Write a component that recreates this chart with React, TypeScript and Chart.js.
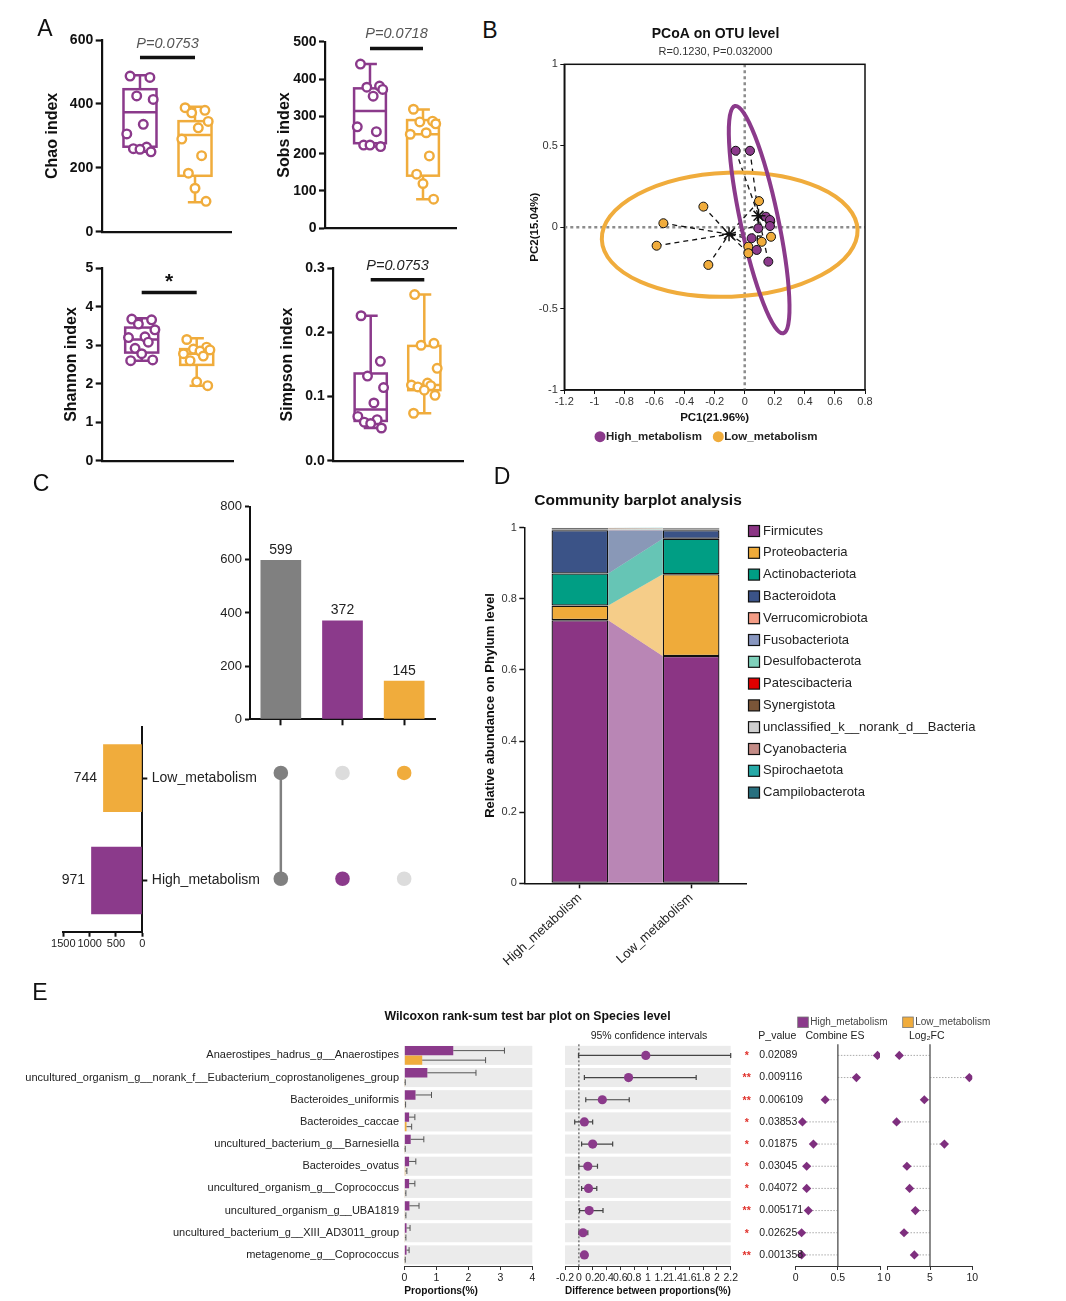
import React, { useEffect, useRef } from 'react';
import { Chart, registerables } from 'chart.js';

Chart.register(...registerables);

const FONT = "'Liberation Sans', Arial, Helvetica, sans-serif";
Chart.defaults.font.family = FONT;
Chart.defaults.color = '#222';

const PURPLE = '#8b3a8b';
const ORANGE = '#f0ac3c';
const GRAY = '#808080';
const LIGHT = '#dcdcdc';
const DIAMOND = '#7e2f7e';
const BAND = '#ebebeb';

// ---------------- Panel A data ----------------
const groupLabels = ['High_metabolism', 'Low_metabolism'];
const chaoHigh = [487, 483, 425, 414, 336, 306, 265, 260, 258, 250];
const chaoLow = [388, 380, 372, 345, 325, 290, 238, 183, 136, 95];
const chaoHighBox = [250, 266, 374, 446, 490]; // min, q1, median, q3, max
const chaoLowBox = [92, 175, 303, 346, 391];

const sobsHigh = [440, 381, 378, 372, 354, 272, 259, 223, 223, 219];
const sobsLow = [319, 287, 285, 280, 256, 252, 194, 145, 120, 78];
const sobsHighBox = [219, 228, 314, 375, 440];
const sobsLowBox = [78, 141, 252, 290, 318];

const shannonHigh = [3.68, 3.66, 3.55, 3.4, 3.22, 3.2, 3.08, 2.92, 2.78, 2.62, 2.6];
const shannonLow = [3.15, 2.95, 2.9, 2.88, 2.85, 2.78, 2.72, 2.6, 2.05, 1.95];
const shannonHighBox = [2.6, 2.81, 3.15, 3.46, 3.7];
const shannonLowBox = [1.95, 2.49, 2.78, 2.9, 3.18];

const simpsonHigh = [0.226, 0.155, 0.132, 0.114, 0.09, 0.069, 0.064, 0.06, 0.058, 0.051];
const simpsonLow = [0.259, 0.183, 0.18, 0.144, 0.121, 0.118, 0.117, 0.115, 0.11, 0.102, 0.074];
const simpsonHighBox = [0.051, 0.062, 0.08, 0.136, 0.226];
const simpsonLowBox = [0.074, 0.11, 0.118, 0.179, 0.259];

// ---------------- Panel B data ----------------
const pcoaHigh = [
  [-0.06, 0.469], [0.035, 0.469], [0.141, 0.064], [0.168, 0.044], [0.168, 0.007],
  [0.09, -0.007], [0.046, -0.068], [0.08, -0.14], [0.157, -0.212],
];
const pcoaLow = [
  [-0.275, 0.126], [-0.541, 0.024], [-0.586, -0.114], [-0.242, -0.232], [0.095, 0.16],
  [0.17, 0.035], [0.175, -0.059], [0.113, -0.09], [0.024, -0.12], [0.024, -0.16],
];
// confidence ellipses: centre x, centre y, semi-axis a, semi-axis b, angle (deg, data space)
const ellipseHigh = [0.096, 0.046, 0.716, 0.125, -77];
const ellipseLow = [-0.1, -0.046, 0.851, 0.381, 2];

// ---------------- Panel C data ----------------
const setNames = ['Low_metabolism', 'High_metabolism'];
const setSizes = [744, 971];
const setColors = [ORANGE, PURPLE];
const intersections = [['Low_metabolism', 'High_metabolism'], ['High_metabolism'], ['Low_metabolism']];
const intersectionCounts = [599, 372, 145];
const intersectionColors = [GRAY, PURPLE, ORANGE];

// ---------------- Panel D data ----------------
const communityGroups = ['High_metabolism', 'Low_metabolism'];
const phyla = [
  'Firmicutes', 'Proteobacteria', 'Actinobacteriota', 'Bacteroidota', 'Verrucomicrobiota',
  'Fusobacteriota', 'Desulfobacterota', 'Patescibacteria', 'Synergistota',
  'unclassified_k__norank_d__Bacteria', 'Cyanobacteria', 'Spirochaetota', 'Campilobacterota',
];
const phylaColors = [
  '#8b3584', '#efab3a', '#009e84', '#3b5387', '#f39c85', '#8896bf', '#7fd1bb',
  '#e00000', '#7a5538', '#cfcfcf', '#c38b86', '#27aaa8', '#28707f',
];
const abundHigh = [0.74, 0.041, 0.09, 0.122, 0.002, 0.0005, 0.0005, 0.0003, 0.0025, 0.0008, 0.0002, 0.0001, 0.0001];
const abundLow = [0.639, 0.23, 0.1, 0.024, 0.001, 0.0008, 0.0012, 0.0005, 0.0015, 0.001, 0.0004, 0.0003, 0.0003];

// ---------------- Panel E data ----------------
const species = [
  'Anaerostipes_hadrus_g__Anaerostipes',
  'uncultured_organism_g__norank_f__Eubacterium_coprostanoligenes_group',
  'Bacteroides_uniformis',
  'Bacteroides_caccae',
  'uncultured_bacterium_g__Barnesiella',
  'Bacteroides_ovatus',
  'uncultured_organism_g__Coprococcus',
  'uncultured_organism_g__UBA1819',
  'uncultured_bacterium_g__XIII_AD3011_group',
  'metagenome_g__Coprococcus',
];
const propHigh = [1.53, 0.72, 0.35, 0.15, 0.2, 0.15, 0.15, 0.16, 0.07, 0.07];
const propHighErr = [3.13, 2.24, 0.85, 0.33, 0.61, 0.36, 0.33, 0.46, 0.18, 0.15];
const propLow = [0.56, 0.01, 0.02, 0.07, 0.01, 0.03, 0.02, 0.02, 0.02, 0.01];
const propLowErr = [2.54, 0.03, 0.04, 0.23, 0.03, 0.08, 0.05, 0.05, 0.05, 0.03];
const diffMean = [0.97, 0.72, 0.34, 0.08, 0.2, 0.13, 0.14, 0.15, 0.06, 0.08];
const diffLow = [-0.005, 0.08, 0.1, -0.06, 0.04, 0.0, 0.04, 0.01, 0.0, 0.07];
const diffHigh = [2.2, 1.7, 0.73, 0.2, 0.49, 0.27, 0.26, 0.35, 0.13, 0.09];
const pValues = ['0.02089', '0.009116', '0.006109', '0.03853', '0.01875', '0.03045', '0.04072', '0.005171', '0.02625', '0.001358'];
const combineES = [0.97, 0.72, 0.35, 0.08, 0.21, 0.13, 0.13, 0.15, 0.07, 0.07];
const log2FC = [1.37, 9.65, 4.33, 1.05, 6.7, 2.27, 2.59, 3.27, 1.93, 3.15];

// ---------------- helpers ----------------
const JIT = [-0.18, 0.18, -0.06, 0.24, 0.06, -0.24, 0.12, -0.12, 0, 0.2, -0.2];

type Area = { l: number; t: number; r: number; b: number };

function place(area: Area, m: Area) {
  const left = Math.floor(area.l - m.l);
  const top = Math.floor(area.t - m.t);
  const right = Math.ceil(area.r + m.r);
  const bottom = Math.ceil(area.b + m.b);
  return {
    rect: { left, top, width: right - left, height: bottom - top },
    ml: area.l - left, mt: area.t - top, mr: right - area.r, mb: bottom - area.b,
  };
}

function baseOptions(pad: any) {
  return {
    animation: false,
    responsive: true,
    maintainAspectRatio: false,
    events: [],
    layout: { padding: pad },
    plugins: { legend: { display: false }, tooltip: { enabled: false }, title: { display: false } },
  };
}

function drawText(ctx: any, text: string, x: number, y: number, o: any = {}) {
  ctx.save();
  ctx.font = `${o.style || 'normal'} ${o.weight || 'normal'} ${o.size || 12}px ${FONT}`;
  ctx.fillStyle = o.color || '#222';
  ctx.textAlign = o.align || 'center';
  ctx.textBaseline = 'middle';
  ctx.fillText(text, x, y);
  ctx.restore();
}

const r2 = (v: any) => String(Math.round(Number(v) * 100) / 100);

// ---------------- Panel A: box plots ----------------
function boxSpec(o: any) {
  const yW = o.area.l - o.titleCx + 9.6;
  const p = place(o.area, { l: yW + 4, t: 30, r: 8, b: 12 });
  const decor = {
    id: 'boxDecor',
    beforeDatasetsDraw(chart: any) {
      const { ctx, scales } = chart;
      const x = scales.x, y = scales.y;
      const unit = x.getPixelForValue(2) - x.getPixelForValue(1);
      const hw = unit * 0.3, cw = unit * 0.13;
      [o.highBox, o.lowBox].forEach((b: number[], i: number) => {
        const [mn, q1, md, q3, mx] = b;
        const cx = x.getPixelForValue(i + 1);
        const y1 = y.getPixelForValue(q1), y3 = y.getPixelForValue(q3);
        const ym = y.getPixelForValue(md), ymin = y.getPixelForValue(mn), ymax = y.getPixelForValue(mx);
        ctx.save();
        ctx.strokeStyle = i === 0 ? PURPLE : ORANGE;
        ctx.lineWidth = 2.5;
        ctx.strokeRect(cx - hw, y3, 2 * hw, y1 - y3);
        ctx.beginPath();
        ctx.moveTo(cx - hw, ym); ctx.lineTo(cx + hw, ym);
        ctx.moveTo(cx, y3); ctx.lineTo(cx, ymax);
        ctx.moveTo(cx, y1); ctx.lineTo(cx, ymin);
        ctx.moveTo(cx - cw, ymax); ctx.lineTo(cx + cw, ymax);
        ctx.moveTo(cx - cw, ymin); ctx.lineTo(cx + cw, ymin);
        ctx.stroke();
        ctx.restore();
      });
    },
    afterDatasetsDraw(chart: any) {
      const { ctx, scales } = chart;
      const x = scales.x, y = scales.y;
      const yy = y.getPixelForValue(o.sigY);
      const x1 = x.getPixelForValue(1), x2 = x.getPixelForValue(2);
      ctx.save();
      ctx.strokeStyle = '#111';
      ctx.lineWidth = 3.5;
      ctx.beginPath(); ctx.moveTo(x1, yy); ctx.lineTo(x2, yy); ctx.stroke();
      ctx.restore();
      drawText(ctx, o.sigText, (x1 + x2) / 2, yy - o.sigGap, { size: o.sigSize, style: o.sigStyle, weight: o.sigWeight, color: o.sigColor });
    },
  };
  const make = () => ({
    type: 'scatter',
    data: {
      datasets: [o.high, o.low].map((arr: number[], g: number) => ({
        label: groupLabels[g],
        data: arr.map((v: number, i: number) => ({ x: g + 1 + JIT[i % JIT.length], y: v })),
        pointRadius: 4.3, pointHoverRadius: 4.3, pointBorderWidth: 2.4,
        pointBorderColor: g ? ORANGE : PURPLE, pointBackgroundColor: '#fff',
      })),
    },
    options: {
      ...baseOptions({ left: p.ml - yW, top: p.mt, right: p.mr, bottom: p.mb }),
      scales: {
        x: {
          type: 'linear', min: o.xMin, max: o.xMax,
          afterFit: (s: any) => { s.height = 0; },
          ticks: { display: false }, grid: { display: false },
          border: { display: true, color: '#111', width: 2.2 },
        },
        y: {
          type: 'linear', min: 0, max: o.yMax,
          afterFit: (s: any) => { s.width = yW; },
          ticks: { stepSize: o.yStep, callback: o.fmt, font: { size: 14, weight: 'bold' }, color: '#111', padding: 2.5 },
          grid: { drawOnChartArea: false, drawTicks: true, tickLength: 6, tickWidth: 2.2, tickColor: '#111' },
          border: { display: true, color: '#111', width: 2.2 },
          title: { display: true, text: o.title, font: { size: 16, weight: 'bold' }, color: '#111', padding: 0 },
        },
      },
    },
    plugins: [decor],
  });
  return { rect: p.rect, make };
}

const chaoSpec = boxSpec({
  area: { l: 101.7, t: 40, r: 231.7, b: 231.7 }, titleCx: 53, title: 'Chao index',
  yMax: 600, yStep: 200, fmt: r2, xMin: 0.304, xMax: 2.667,
  high: chaoHigh, low: chaoLow, highBox: chaoHighBox, lowBox: chaoLowBox,
  sigY: 545, sigText: 'P=0.0753', sigGap: 14, sigSize: 14.5, sigStyle: 'italic', sigWeight: 'normal', sigColor: '#555',
});
const sobsSpec = boxSpec({
  area: { l: 325, t: 41.7, r: 456.7, b: 228.3 }, titleCx: 285, title: 'Sobs index',
  yMax: 500, yStep: 100, fmt: r2, xMin: 0.151, xMax: 2.636,
  high: sobsHigh, low: sobsLow, highBox: sobsHighBox, lowBox: sobsLowBox,
  sigY: 482, sigText: 'P=0.0718', sigGap: 14, sigSize: 14.5, sigStyle: 'italic', sigWeight: 'normal', sigColor: '#555',
});
const shannonSpec = boxSpec({
  area: { l: 101.7, t: 268.3, r: 233, b: 460.7 }, titleCx: 72, title: 'Shannon index',
  yMax: 5, yStep: 1, fmt: r2, xMin: 0.273, xMax: 2.66,
  high: shannonHigh, low: shannonLow, highBox: shannonHighBox, lowBox: shannonLowBox,
  sigY: 4.37, sigText: '*', sigGap: 10, sigSize: 21, sigStyle: 'normal', sigWeight: 'bold', sigColor: '#111',
});
const simpsonSpec = boxSpec({
  area: { l: 333.3, t: 268.3, r: 463, b: 460.7 }, titleCx: 288, title: 'Simpson index',
  yMax: 0.3, yStep: 0.1, fmt: (v: any) => Number(v).toFixed(1), xMin: 0.302, xMax: 2.722,
  high: simpsonHigh, low: simpsonLow, highBox: simpsonHighBox, lowBox: simpsonLowBox,
  sigY: 0.282, sigText: 'P=0.0753', sigGap: 13.5, sigSize: 14.5, sigStyle: 'italic', sigWeight: 'normal', sigColor: '#222',
});

// ---------------- Panel B: PCoA ----------------
function pcoaSpec() {
  const area = { l: 564.3, t: 64.3, r: 865, b: 390 };
  const yW = 564.3 - 535 + 6.9;
  const xH = 418 + 6.9 - 390;
  const p = place(area, { l: yW + 8, t: 52, r: 30, b: xH + 30 });
  const mean = (a: number[][], k: number) => a.reduce((s, v) => s + v[k], 0) / a.length;
  const cH = [mean(pcoaHigh, 0), mean(pcoaHigh, 1)];
  const cL = [mean(pcoaLow, 0), mean(pcoaLow, 1)];
  const decor = {
    id: 'pcoaDecor',
    beforeDatasetsDraw(chart: any) {
      const { ctx, chartArea: a, scales } = chart;
      const x = scales.x, y = scales.y;
      const kx = x.getPixelForValue(1) - x.getPixelForValue(0);
      const ky = y.getPixelForValue(0) - y.getPixelForValue(1);
      ctx.save();
      ctx.strokeStyle = '#8c8c8c'; ctx.lineWidth = 2.5; ctx.setLineDash([3, 3]);
      ctx.beginPath();
      ctx.moveTo(x.getPixelForValue(0), a.top); ctx.lineTo(x.getPixelForValue(0), a.bottom);
      ctx.moveTo(a.left, y.getPixelForValue(0)); ctx.lineTo(a.right, y.getPixelForValue(0));
      ctx.stroke();
      ctx.strokeStyle = '#111'; ctx.lineWidth = 1.3; ctx.setLineDash([5, 4]);
      ctx.beginPath();
      ([[pcoaHigh, cH], [pcoaLow, cL]] as any[]).forEach(([pts, c]) => {
        pts.forEach((pt: number[]) => {
          ctx.moveTo(x.getPixelForValue(pt[0]), y.getPixelForValue(pt[1]));
          ctx.lineTo(x.getPixelForValue(c[0]), y.getPixelForValue(c[1]));
        });
      });
      ctx.stroke();
      ctx.setLineDash([]);
      ([[ellipseLow, ORANGE], [ellipseHigh, PURPLE]] as any[]).forEach(([e, col]) => {
        ctx.save();
        ctx.beginPath();
        ctx.translate(x.getPixelForValue(e[0]), y.getPixelForValue(e[1]));
        ctx.scale(kx, -ky);
        ctx.rotate((e[4] * Math.PI) / 180);
        ctx.ellipse(0, 0, e[2], e[3], 0, 0, Math.PI * 2);
        ctx.restore();
        ctx.strokeStyle = col; ctx.lineWidth = 4; ctx.stroke();
      });
      ctx.restore();
    },
    afterDraw(chart: any) {
      const { ctx, chartArea: a } = chart;
      ctx.save();
      ctx.strokeStyle = '#111'; ctx.lineWidth = 1.5;
      ctx.strokeRect(a.left, a.top, a.right - a.left, a.bottom - a.top);
      ctx.restore();
      const ox = p.rect.left, oy = p.rect.top;
      drawText(ctx, 'PCoA on OTU level', 715.5 - ox, 34 - oy, { size: 14, weight: 'bold', color: '#111' });
      drawText(ctx, 'R=0.1230, P=0.032000', 715.5 - ox, 52 - oy, { size: 11, color: '#333' });
      [[600, PURPLE], [718.3, ORANGE]].forEach(([cx, col]: any, i: number) => {
        ctx.save();
        ctx.fillStyle = col;
        ctx.beginPath(); ctx.arc(cx - ox, 436.7 - oy, 5.5, 0, Math.PI * 2); ctx.fill();
        ctx.restore();
        drawText(ctx, groupLabels[i], cx + 6 - ox, 436.7 - oy, { size: 11.5, weight: 'bold', color: '#222', align: 'left' });
      });
    },
  };
  const make = () => ({
    type: 'scatter',
    data: {
      datasets: [
        {
          label: 'centroids', data: [{ x: cH[0], y: cH[1] }, { x: cL[0], y: cL[1] }],
          pointStyle: 'star', pointRadius: 7, pointBorderColor: '#111', pointBorderWidth: 1.5, pointBackgroundColor: '#111',
        },
        {
          label: groupLabels[0], data: pcoaHigh.map(([a, b]) => ({ x: a, y: b })),
          pointRadius: 4.5, pointBackgroundColor: PURPLE, pointBorderColor: '#111', pointBorderWidth: 1,
        },
        {
          label: groupLabels[1], data: pcoaLow.map(([a, b]) => ({ x: a, y: b })),
          pointRadius: 4.5, pointBackgroundColor: ORANGE, pointBorderColor: '#111', pointBorderWidth: 1,
        },
      ],
    },
    options: {
      ...baseOptions({ left: p.ml - yW, top: p.mt, right: p.mr, bottom: p.mb - xH }),
      scales: {
        x: {
          type: 'linear', min: -1.2, max: 0.8,
          afterFit: (s: any) => { s.height = xH; },
          ticks: { stepSize: 0.2, callback: r2, autoSkip: false, maxRotation: 0, font: { size: 11 }, color: '#333', padding: 1 },
          grid: { drawOnChartArea: false, tickLength: 4, tickWidth: 1, tickColor: '#111' },
          border: { color: '#111', width: 1.5 },
          title: { display: true, text: 'PC1(21.96%)', font: { size: 11.5, weight: 'bold' }, color: '#111', padding: 0 },
        },
        y: {
          type: 'linear', min: -1, max: 1,
          afterFit: (s: any) => { s.width = yW; },
          ticks: { stepSize: 0.5, callback: r2, font: { size: 11 }, color: '#333', padding: 2.5 },
          grid: { drawOnChartArea: false, tickLength: 4, tickWidth: 1, tickColor: '#111' },
          border: { color: '#111', width: 1.5 },
          title: { display: true, text: 'PC2(15.04%)', font: { size: 11.5, weight: 'bold' }, color: '#111', padding: 0 },
        },
      },
    },
    plugins: [decor],
  });
  return { rect: p.rect, make };
}

// ---------------- Panel C: UpSet ----------------
function upsetTopSpec() {
  const area = { l: 250, t: 506.7, r: 435, b: 719.3 };
  const yW = 50, xH = 8;
  const p = place(area, { l: yW + 4, t: 32, r: 8, b: xH + 12 });
  const labelsPlugin = {
    id: 'barValues',
    afterDatasetsDraw(chart: any) {
      const meta = chart.getDatasetMeta(0);
      meta.data.forEach((el: any, i: number) => {
        drawText(chart.ctx, String(intersectionCounts[i]), el.x, el.y - 10, { size: 14, color: '#222' });
      });
    },
  };
  const make = () => ({
    type: 'bar',
    data: {
      labels: intersections.map((s) => s.join('&')),
      datasets: [{ data: intersectionCounts, backgroundColor: intersectionColors, barPercentage: 0.66, categoryPercentage: 1 }],
    },
    options: {
      ...baseOptions({ left: p.ml - yW, top: p.mt, right: p.mr, bottom: p.mb - xH }),
      scales: {
        x: {
          afterFit: (s: any) => { s.height = xH; },
          ticks: { display: false },
          grid: { drawOnChartArea: false, offset: false, tickLength: 6, tickWidth: 2, tickColor: '#111' },
          border: { color: '#111', width: 2 },
        },
        y: {
          min: 0, max: 800,
          afterFit: (s: any) => { s.width = yW; },
          ticks: { stepSize: 200, font: { size: 13 }, color: '#222', padding: 3 },
          grid: { drawOnChartArea: false, tickLength: 5, tickWidth: 2, tickColor: '#111' },
          border: { color: '#111', width: 2 },
        },
      },
    },
    plugins: [labelsPlugin],
  });
  return { rect: p.rect, make };
}

function upsetLeftSpec() {
  const area = { l: 63.3, t: 720, r: 142.3, b: 931.7 };
  const yRW = 130, xH = 22;
  const p = place(area, { l: 40, t: 6, r: yRW + 6, b: xH + 6 });
  const labelsPlugin = {
    id: 'setValues',
    afterDatasetsDraw(chart: any) {
      const meta = chart.getDatasetMeta(0);
      meta.data.forEach((el: any, i: number) => {
        drawText(chart.ctx, String(setSizes[i]), el.x - 6, el.y, { size: 14, color: '#222', align: 'right' });
      });
    },
  };
  const make = () => ({
    type: 'bar',
    data: {
      labels: setNames,
      datasets: [{ data: setSizes, backgroundColor: setColors, barPercentage: 0.66, categoryPercentage: 1 }],
    },
    options: {
      ...baseOptions({ left: p.ml, top: p.mt, right: p.mr - yRW, bottom: p.mb - xH }),
      indexAxis: 'y',
      scales: {
        x: {
          type: 'linear', min: 0, max: 1500, reverse: true,
          afterFit: (s: any) => { s.height = xH; },
          ticks: { stepSize: 500, callback: (v: any) => String(v), font: { size: 11 }, color: '#222', padding: 1, maxRotation: 0, autoSkip: false },
          grid: { drawOnChartArea: false, tickLength: 5, tickWidth: 2, tickColor: '#111' },
          border: { color: '#111', width: 2 },
        },
        y: {
          position: 'right',
          afterFit: (s: any) => { s.width = yRW; },
          ticks: { font: { size: 14 }, color: '#222', padding: 4.5 },
          grid: { drawOnChartArea: false, offset: false, tickLength: 5, tickWidth: 2, tickColor: '#111' },
          border: { color: '#111', width: 2 },
        },
      },
    },
    plugins: [labelsPlugin],
  });
  return { rect: p.rect, make };
}

function upsetMatrixSpec() {
  const area = { l: 250, t: 720, r: 435, b: 931.7 };
  const p = place(area, { l: 10, t: 10, r: 10, b: 10 });
  const make = () => {
    const dots: any[] = [];
    const dotColors: string[] = [];
    intersections.forEach((members, j) => {
      setNames.forEach((s) => {
        dots.push({ x: j + 1, y: s });
        dotColors.push(members.includes(s) ? intersectionColors[j] : LIGHT);
      });
    });
    const links = intersections
      .map((members, j) => ({ members, j }))
      .filter((d) => d.members.length > 1)
      .map((d) => ({
        data: d.members.map((s) => ({ x: d.j + 1, y: s })),
        showLine: true, borderColor: intersectionColors[d.j], borderWidth: 2.5, pointRadius: 0,
      }));
    return {
      type: 'scatter',
      data: {
        datasets: [
          { data: dots, pointRadius: 7.3, pointBackgroundColor: dotColors, pointBorderWidth: 0, pointBorderColor: dotColors },
          ...links,
        ],
      },
      options: {
        ...baseOptions({ left: p.ml, top: p.mt, right: p.mr, bottom: p.mb }),
        scales: {
          x: { type: 'linear', min: 0.5, max: 3.5, display: false },
          y: { type: 'category', labels: setNames, offset: true, display: false },
        },
      },
    };
  };
  return { rect: p.rect, make };
}

// ---------------- Panel D: community barplot ----------------
function communitySpec() {
  const area = { l: 524.3, t: 527.7, r: 746.7, b: 883.3 };
  const yW = 524.3 - 490 + 7.8;
  const xH = 88;
  const p = place(area, { l: yW + 8, t: 40, r: 250, b: xH + 4 });
  const hexA = (hex: string, a: number) => {
    const n = parseInt(hex.slice(1), 16);
    return `rgba(${(n >> 16) & 255},${(n >> 8) & 255},${n & 255},${a})`;
  };
  const decor = {
    id: 'communityDecor',
    beforeDatasetsDraw(chart: any) {
      const ctx = chart.ctx;
      phyla.forEach((_: string, d: number) => {
        const meta = chart.getDatasetMeta(d);
        const e0 = meta.data[0].getProps(['x', 'y', 'base', 'width'], true);
        const e1 = meta.data[1].getProps(['x', 'y', 'base', 'width'], true);
        const xa = e0.x + e0.width / 2, xb = e1.x - e1.width / 2;
        ctx.save();
        ctx.fillStyle = hexA(phylaColors[d], 0.6);
        ctx.beginPath();
        ctx.moveTo(xa, e0.y); ctx.lineTo(xb, e1.y); ctx.lineTo(xb, e1.base); ctx.lineTo(xa, e0.base);
        ctx.closePath(); ctx.fill();
        ctx.restore();
      });
    },
    afterDraw(chart: any) {
      const ctx = chart.ctx;
      const ox = p.rect.left, oy = p.rect.top;
      drawText(ctx, 'Community barplot analysis', 638 - ox, 500.7 - oy, { size: 15.5, weight: 'bold', color: '#111' });
      phyla.forEach((name: string, i: number) => {
        const cy = 531 + i * 21.8 - oy;
        ctx.save();
        ctx.fillStyle = phylaColors[i];
        ctx.strokeStyle = '#111';
        ctx.lineWidth = 1.2;
        ctx.fillRect(748.5 - ox, cy - 5.5, 11, 11);
        ctx.strokeRect(748.5 - ox, cy - 5.5, 11, 11);
        ctx.restore();
        drawText(ctx, name, 763 - ox, cy, { size: 13, color: '#222', align: 'left' });
      });
    },
  };
  const make = () => ({
    type: 'bar',
    data: {
      labels: communityGroups,
      datasets: phyla.map((name, i) => ({
        label: name,
        data: [abundHigh[i], abundLow[i]],
        backgroundColor: phylaColors[i],
        borderColor: '#111',
        borderWidth: 1.3,
        borderSkipped: false,
        barPercentage: 0.51,
        categoryPercentage: 1,
      })),
    },
    options: {
      ...baseOptions({ left: p.ml - yW, top: p.mt, right: p.mr, bottom: p.mb - xH }),
      scales: {
        x: {
          stacked: true,
          afterFit: (s: any) => { s.height = xH; },
          ticks: { minRotation: 42, maxRotation: 42, font: { size: 13 }, color: '#222', padding: 2 },
          grid: { drawOnChartArea: false, offset: false, tickLength: 5, tickWidth: 1.5, tickColor: '#111' },
          border: { color: '#111', width: 1.5 },
        },
        y: {
          stacked: true, min: 0, max: 1,
          afterFit: (s: any) => { s.width = yW; },
          ticks: { stepSize: 0.2, callback: r2, font: { size: 11 }, color: '#333', padding: 2.5 },
          grid: { drawOnChartArea: false, tickLength: 5, tickWidth: 1.5, tickColor: '#111' },
          border: { color: '#111', width: 1.5 },
          title: { display: true, text: 'Relative abundance on Phylum level', font: { size: 13, weight: 'bold' }, color: '#111', padding: 0 },
        },
      },
    },
    plugins: [decor],
  });
  return { rect: p.rect, make };
}

// ---------------- Panel E ----------------
const E_TOP = 1044.3, E_BOTTOM = 1266;
const E_XH = 1291 + 6.2 - 1266;

function drawBands(chart: any) {
  const { ctx, chartArea: a, scales } = chart;
  const y = scales.y;
  const rowH = (a.bottom - a.top) / species.length;
  ctx.save();
  ctx.fillStyle = BAND;
  species.forEach((_: string, i: number) => {
    const yc = y.getPixelForValue(i);
    ctx.fillRect(a.left, yc - rowH * 0.43, a.right - a.left, rowH * 0.86);
  });
  ctx.restore();
}

function eAxisX(min: number, max: number, step: number, xH: number, title?: any) {
  return {
    type: 'linear', min, max,
    afterFit: (s: any) => { s.height = xH; },
    ticks: { stepSize: step, callback: r2, autoSkip: false, maxRotation: 0, font: { size: 10.5 }, color: '#222', padding: 2 },
    grid: { drawOnChartArea: false, tickLength: 4, tickWidth: 1, tickColor: '#333' },
    border: { color: '#333', width: 1 },
    title: title || { display: false },
  };
}

function propSpec() {
  const area = { l: 404.3, t: E_TOP, r: 532.3, b: E_BOTTOM };
  const yW = 404.3 - 20;
  const p = place(area, { l: yW + 4, t: 40, r: 170, b: E_XH + 6 });
  const decor = {
    id: 'propDecor',
    beforeDatasetsDraw(chart: any) { drawBands(chart); },
    afterDatasetsDraw(chart: any) {
      const { ctx, scales } = chart;
      const x = scales.x;
      [propHighErr, propLowErr].forEach((err: number[], d: number) => {
        const vals = d === 0 ? propHigh : propLow;
        chart.getDatasetMeta(d).data.forEach((el: any, i: number) => {
          if (err[i] <= vals[i]) return;
          const xe = x.getPixelForValue(err[i]);
          ctx.save();
          ctx.strokeStyle = '#555'; ctx.lineWidth = 1;
          ctx.beginPath();
          ctx.moveTo(el.x, el.y); ctx.lineTo(xe, el.y);
          ctx.moveTo(xe, el.y - 3); ctx.lineTo(xe, el.y + 3);
          ctx.stroke();
          ctx.restore();
        });
      });
    },
    afterDraw(chart: any) {
      drawText(chart.ctx, 'Wilcoxon rank-sum test bar plot on Species level', 527.5 - p.rect.left, 1016.7 - p.rect.top, { size: 12.3, weight: 'bold', color: '#111' });
    },
  };
  const make = () => ({
    type: 'bar',
    data: {
      labels: species,
      datasets: [
        { label: groupLabels[0], data: propHigh, backgroundColor: PURPLE, barPercentage: 0.98, categoryPercentage: 0.86 },
        { label: groupLabels[1], data: propLow, backgroundColor: ORANGE, barPercentage: 0.98, categoryPercentage: 0.86 },
      ],
    },
    options: {
      ...baseOptions({ left: p.ml - yW, top: p.mt, right: p.mr, bottom: p.mb - E_XH }),
      indexAxis: 'y',
      scales: {
        x: eAxisX(0, 4, 1, E_XH, { display: true, text: 'Proportions(%)', align: 'start', font: { size: 10.2, weight: 'bold' }, color: '#111', padding: 0 }),
        y: {
          afterFit: (s: any) => { s.width = yW; },
          ticks: { font: { size: 11 }, color: '#222', padding: 5.3, autoSkip: false },
          grid: { display: false, drawTicks: false },
          border: { display: false },
        },
      },
    },
    plugins: [decor],
  });
  return { rect: p.rect, make };
}

function ciSpec() {
  const area = { l: 562.3, t: E_TOP, r: 730.7, b: E_BOTTOM };
  const p = place(area, { l: 8, t: 20, r: 10, b: E_XH + 6 });
  const decor = {
    id: 'ciDecor',
    beforeDatasetsDraw(chart: any) {
      drawBands(chart);
      const { ctx, chartArea: a, scales } = chart;
      const x = scales.x, y = scales.y;
      ctx.save();
      ctx.strokeStyle = '#777'; ctx.lineWidth = 1.5; ctx.setLineDash([2, 2]);
      ctx.beginPath(); ctx.moveTo(x.getPixelForValue(0), a.top); ctx.lineTo(x.getPixelForValue(0), a.bottom); ctx.stroke();
      ctx.setLineDash([]);
      ctx.strokeStyle = '#444'; ctx.lineWidth = 1.2;
      species.forEach((_: string, i: number) => {
        const yc = y.getPixelForValue(i);
        const xl = x.getPixelForValue(diffLow[i]), xr = x.getPixelForValue(diffHigh[i]);
        ctx.beginPath();
        ctx.moveTo(xl, yc); ctx.lineTo(xr, yc);
        ctx.moveTo(xl, yc - 2.5); ctx.lineTo(xl, yc + 2.5);
        ctx.moveTo(xr, yc - 2.5); ctx.lineTo(xr, yc + 2.5);
        ctx.stroke();
      });
      ctx.restore();
    },
    afterDraw(chart: any) {
      drawText(chart.ctx, '95% confidence intervals', 649 - p.rect.left, 1035.7 - p.rect.top, { size: 10.5, color: '#222' });
    },
  };
  const make = () => ({
    type: 'scatter',
    data: {
      datasets: [{
        data: species.map((s, i) => ({ x: diffMean[i], y: s })),
        pointRadius: 4.6, pointBackgroundColor: PURPLE, pointBorderWidth: 0,
      }],
    },
    options: {
      ...baseOptions({ left: p.ml, top: p.mt, right: p.mr, bottom: p.mb - E_XH }),
      scales: {
        x: eAxisX(-0.2, 2.2, 0.2, E_XH, { display: true, text: 'Difference between proportions(%)', font: { size: 10.4, weight: 'bold' }, color: '#111', padding: 0 }),
        y: { type: 'category', labels: species, offset: true, display: false },
      },
    },
    plugins: [decor],
  });
  return { rect: p.rect, make };
}

function lollipopSpec(o: any) {
  const xH = 22;
  const p = place(o.area, { l: o.ml, t: 36, r: o.mr, b: xH + 6 });
  const decor = {
    id: 'lollipop',
    beforeDatasetsDraw(chart: any) {
      const { ctx, chartArea: a, scales } = chart;
      const x = scales.x, y = scales.y;
      const xc = x.getPixelForValue(o.center);
      ctx.save();
      ctx.strokeStyle = '#aaa'; ctx.lineWidth = 1; ctx.setLineDash([1.5, 1.5]);
      o.values.forEach((v: number, i: number) => {
        const yc = y.getPixelForValue(i);
        ctx.beginPath(); ctx.moveTo(xc, yc); ctx.lineTo(x.getPixelForValue(v), yc); ctx.stroke();
      });
      ctx.setLineDash([]);
      ctx.strokeStyle = '#666'; ctx.lineWidth = 1.5;
      ctx.beginPath(); ctx.moveTo(xc, a.top); ctx.lineTo(xc, a.bottom); ctx.stroke();
      ctx.restore();
    },
    afterDraw(chart: any) {
      const ctx = chart.ctx;
      const ox = p.rect.left, oy = p.rect.top;
      drawText(ctx, o.header, o.headerX - ox, 1035.7 - oy, { size: 10.5, color: '#222' });
      if (o.withPvalues) {
        const y = chart.scales.y;
        drawText(ctx, 'P_value', 777.3 - ox, 1035.7 - oy, { size: 10.5, color: '#222' });
        pValues.forEach((pv: string, i: number) => {
          const yc = y.getPixelForValue(i);
          const n = Number(pv);
          const star = n < 0.01 ? '**' : n < 0.05 ? '*' : '';
          drawText(ctx, star, 746.7 - ox, yc + 1, { size: 10.5, color: '#e0302a', weight: 'bold' });
          drawText(ctx, pv, 759.3 - ox, yc, { size: 10.5, color: '#222', align: 'left' });
        });
        [[797.7, PURPLE], [902.7, ORANGE]].forEach(([lx, col]: any, i: number) => {
          ctx.save();
          ctx.fillStyle = col; ctx.strokeStyle = '#777'; ctx.lineWidth = 0.8;
          ctx.fillRect(lx - ox, 1022.3 - 5.3 - oy, 10.6, 10.6);
          ctx.strokeRect(lx - ox, 1022.3 - 5.3 - oy, 10.6, 10.6);
          ctx.restore();
          drawText(ctx, groupLabels[i], lx + 12.5 - ox, 1022.3 - oy, { size: 10, color: '#444', align: 'left' });
        });
      }
    },
  };
  const make = () => ({
    type: 'scatter',
    data: {
      datasets: [{
        data: species.map((s, i) => ({ x: o.values[i], y: s })),
        pointStyle: 'rectRot', pointRadius: 4.6, pointBackgroundColor: DIAMOND, pointBorderWidth: 0,
      }],
    },
    options: {
      ...baseOptions({ left: p.ml, top: p.mt, right: p.mr, bottom: p.mb - xH }),
      scales: {
        x: eAxisX(o.min, o.max, o.step, xH),
        y: { type: 'category', labels: species, offset: true, display: false },
      },
    },
    plugins: [decor],
  });
  return { rect: p.rect, make };
}

const esSpec = lollipopSpec({
  area: { l: 795.7, t: E_TOP, r: 880, b: E_BOTTOM }, ml: 60, mr: 110,
  min: 0, max: 1, step: 0.5, center: 0.5, values: combineES,
  header: 'Combine ES', headerX: 835, withPvalues: true,
});
const fcSpec = lollipopSpec({
  area: { l: 887.7, t: E_TOP, r: 972.3, b: E_BOTTOM }, ml: 8, mr: 14,
  min: 0, max: 10, step: 5, center: 5, values: log2FC,
  header: 'Log\u2082FC', headerX: 926.7, withPvalues: false,
});

const specs = [
  chaoSpec, sobsSpec, shannonSpec, simpsonSpec,
  pcoaSpec(),
  upsetTopSpec(), upsetLeftSpec(), upsetMatrixSpec(),
  communitySpec(),
  propSpec(), ciSpec(), esSpec, fcSpec,
];

const panelLetters = [
  { t: 'A', x: 45, y: 28 },
  { t: 'B', x: 490, y: 30 },
  { t: 'C', x: 41, y: 483 },
  { t: 'D', x: 502, y: 476 },
  { t: 'E', x: 40, y: 992 },
];

function ChartCanvas({ rect, make }: { rect: any; make: () => any }) {
  const ref = useRef<HTMLCanvasElement>(null);
  useEffect(() => {
    const chart = new Chart(ref.current as HTMLCanvasElement, make());
    return () => chart.destroy();
  }, []);
  return (
    <div style={{ position: 'absolute', left: rect.left, top: rect.top, width: rect.width, height: rect.height }}>
      <canvas ref={ref} />
    </div>
  );
}

export default function App() {
  return (
    <div style={{ position: 'absolute', left: 0, top: 0, width: 1066, height: 1301, background: '#fff', overflow: 'hidden', fontFamily: FONT }}>
      {specs.map((s, i) => (
        <ChartCanvas key={i} rect={s.rect} make={s.make} />
      ))}
      {panelLetters.map((l) => (
        <div key={l.t} style={{ position: 'absolute', left: l.x, top: l.y, transform: 'translate(-50%, -50%)', fontSize: 23, lineHeight: 1, color: '#111' }}>
          {l.t}
        </div>
      ))}
    </div>
  );
}
